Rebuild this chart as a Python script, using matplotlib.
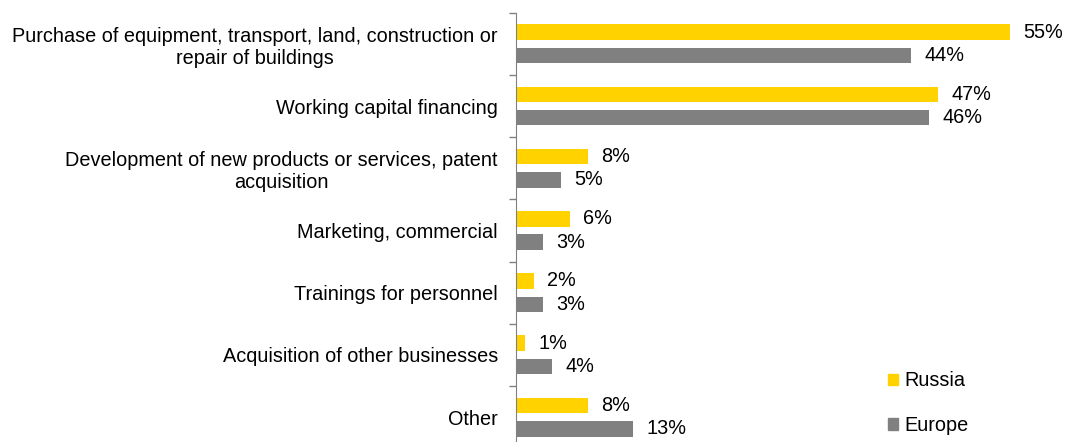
import matplotlib.pyplot as plt
from matplotlib.patches import Patch

plt.rcParams['font.family'] = ['Liberation Sans', 'DejaVu Sans']

categories = [
    'Purchase of equipment, transport, land, construction or\nrepair of buildings',
    'Working capital financing',
    'Development of new products or services, patent\nacquisition',
    'Marketing, commercial',
    'Trainings for personnel',
    'Acquisition of other businesses',
    'Other',
]
russia = [55, 47, 8, 6, 2, 1, 8]
europe = [44, 46, 5, 3, 3, 4, 13]

yellow = '#FFD200'
grey = '#808080'
fs = 14.3

fig = plt.figure(figsize=(10.65, 4.42), dpi=100)
# the original is cropped a little at the bottom
ax = fig.add_axes([516 / 1065, -6.2 / 442, 539 / 1065, 435.5 / 442])

pos = range(len(categories))
off = 0.188
h = 0.25
ax.barh([p - off for p in pos], russia, height=h, color=yellow)
ax.barh([p + off for p in pos], europe, height=h, color=grey)

for p, r, e in zip(pos, russia, europe):
    ax.text(r + 1.5, p - off, f'{r}%', va='center', ha='left', fontsize=fs)
    ax.text(e + 1.5, p + off, f'{e}%', va='center', ha='left', fontsize=fs)

ax.set_xlim(0, 60)
ax.set_ylim(len(categories) - 0.5, -0.5)
ax.set_yticks(list(pos))
ax.set_yticklabels(categories, fontsize=fs, multialignment='center')
ax.tick_params(axis='y', which='major', length=0, pad=13)
ax.set_yticks([p - 0.5 for p in range(len(categories) + 1)], minor=True)
ax.tick_params(axis='y', which='minor', length=5, color=grey, width=1)
ax.set_xticks([])
for s in ['top', 'right', 'bottom']:
    ax.spines[s].set_visible(False)
ax.spines['left'].set_color(grey)

handles = [Patch(color=yellow), Patch(color=grey)]
fig.legend(handles, ['Russia', 'Europe'], loc='lower left',
           bbox_to_anchor=(870 / 1065, -0.025), frameon=False, fontsize=fs,
           handlelength=0.5, handleheight=0.5, handletextpad=0.35,
           labelspacing=1.3)

fig.savefig('out.png', dpi=100)
